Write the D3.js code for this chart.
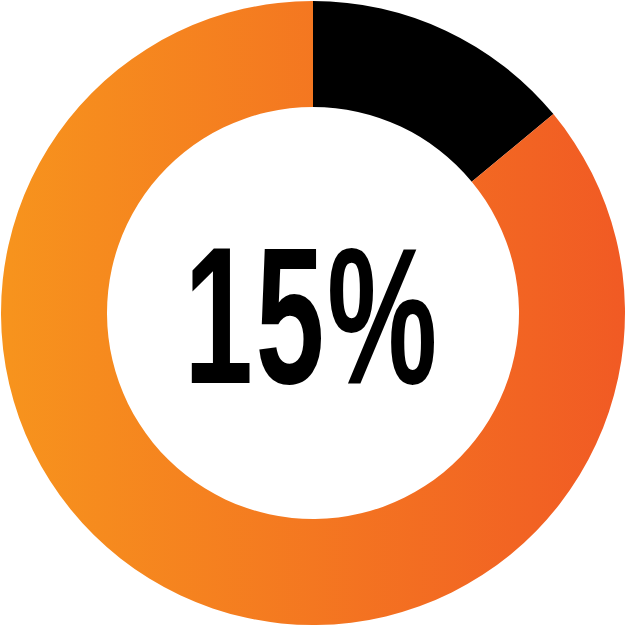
<!DOCTYPE html>
<html><head><meta charset="utf-8">
<script src="https://cdn.jsdelivr.net/npm/d3@7"></script>
<style>html,body{margin:0;padding:0;background:#fff;}svg{display:block;}</style>
</head><body>
<script>
const categories = ["done", "remaining"];
const values = [14, 86];          // arc shares
const label = "15%";
const colors = ["#000000", "url(#orangeGrad)"];

const W = 626, H = 626, cx = 313, cy = 313, R = 312, r = 206;
const svg = d3.select("body").append("svg").attr("width", W).attr("height", H);
const defs = svg.append("defs");
const grad = defs.append("linearGradient").attr("id", "orangeGrad")
  .attr("gradientUnits", "userSpaceOnUse")
  .attr("x1", -cx).attr("y1", 0).attr("x2", W - cx).attr("y2", 0);
grad.append("stop").attr("offset", "0%").attr("stop-color", "#F7941D");
grad.append("stop").attr("offset", "100%").attr("stop-color", "#F15A24");

const pie = d3.pie().sort(null).value(d => d)(values);
const arc = d3.arc().innerRadius(r).outerRadius(R);
const g = svg.append("g").attr("transform", `translate(${cx},${cy})`);
g.selectAll("path").data(pie).join("path")
  .attr("d", arc)
  .attr("fill", (d, i) => colors[i]);

const t = svg.append("text")
  .attr("font-family", "'Liberation Sans',Arial,sans-serif")
  .attr("font-weight", "bold")
  .attr("font-size", 195)
  .attr("letter-spacing", 4)
  .attr("fill", "#000")
  .text(label);
const len = t.node().getComputedTextLength();
const targetW = 256, left = 184, base = 383;
const sx = targetW / len;
t.attr("transform", `translate(${left},${base}) scale(${sx},1)`);
</script>
</body></html>
